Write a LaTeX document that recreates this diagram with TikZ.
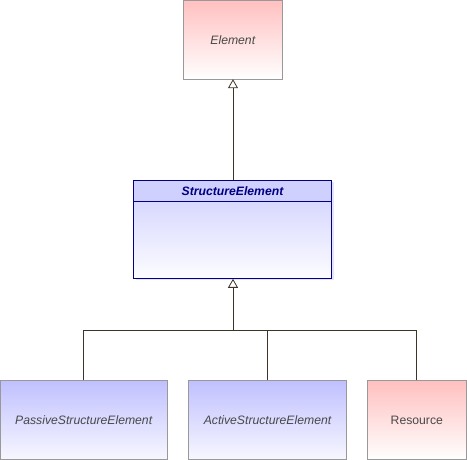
\documentclass[tikz,border=0pt]{standalone}
\usepackage{fontspec}
\setmainfont{Liberation Sans}
\usepackage{tikz}
\usetikzlibrary{shapes, arrows, arrows.meta, calc, positioning}

\definecolor{pinktop}{HTML}{FFC0C0}
\definecolor{bluetop}{HTML}{C0C0FF}
\definecolor{bluehead}{HTML}{D0D0FF}
\definecolor{bluebody}{HTML}{D8D8FF}
\definecolor{boxline}{HTML}{999999}
\definecolor{navyline}{HTML}{000080}
\definecolor{connline}{HTML}{3C3428}
\definecolor{labeltext}{HTML}{484848}

\begin{document}
\begin{tikzpicture}[x=1pt, y=-1pt, >={Triangle[open, width=10pt, length=9pt]}]
	\tikzstyle{pinkbox} = [draw=boxline, line width=1pt, top color=pinktop, bottom color=white, minimum height=79pt, inner sep=0pt, text=labeltext, font=\fontsize{12.2}{14}\selectfont]
	\tikzstyle{bluebox} = [draw=boxline, line width=1pt, top color=bluetop, bottom color=blue!3, minimum height=79pt, inner sep=0pt, text=labeltext, font=\fontsize{12.2}{14}\selectfont\itshape]
	\tikzstyle{conn} = [draw=connline, line width=0.8pt]

	\useasboundingbox (0,0) rectangle (467,460);

	\node[pinkbox, minimum width=99pt, font=\fontsize{12.2}{14}\selectfont\itshape] (element) at (232.8,39.7) {Element};

	\fill[bluehead!60] (135.5,182.5) rectangle (333.7,280.5);
	\node[draw=navyline, line width=1pt, outer sep=0pt, fill=bluehead, minimum width=198.4pt, minimum height=21pt, inner sep=0pt, text=navyline, font=\fontsize{12.2}{14}\selectfont\bfseries\itshape] (sehead) at (232.5,190.8) {StructureElement};
	\node[draw=navyline, line width=1pt, outer sep=0pt, top color=bluebody, bottom color=blue!1, minimum width=198.4pt, minimum height=77pt, inner sep=0pt, below=0pt of sehead] (sebody) {};

	\node[bluebox, minimum width=167pt] (passive) at (83.7,420.4) {PassiveStructureElement};
	\node[bluebox, minimum width=158.4pt] (active) at (267.5,420.4) {ActiveStructureElement};
	\node[pinkbox, minimum width=99pt] (resource) at (416.8,420.4) {Resource};

	\coordinate (junction) at (233,330);

	\draw[conn, ->] (233,180.3) -- (233,79.2);
	\draw[conn, ->] (junction) -- (233,278.8);
	\draw[conn] (passive.north) |- (junction);
	\draw[conn] (active.north) |- (junction);
	\draw[conn] (resource.north) |- (junction);
\end{tikzpicture}
\end{document}
